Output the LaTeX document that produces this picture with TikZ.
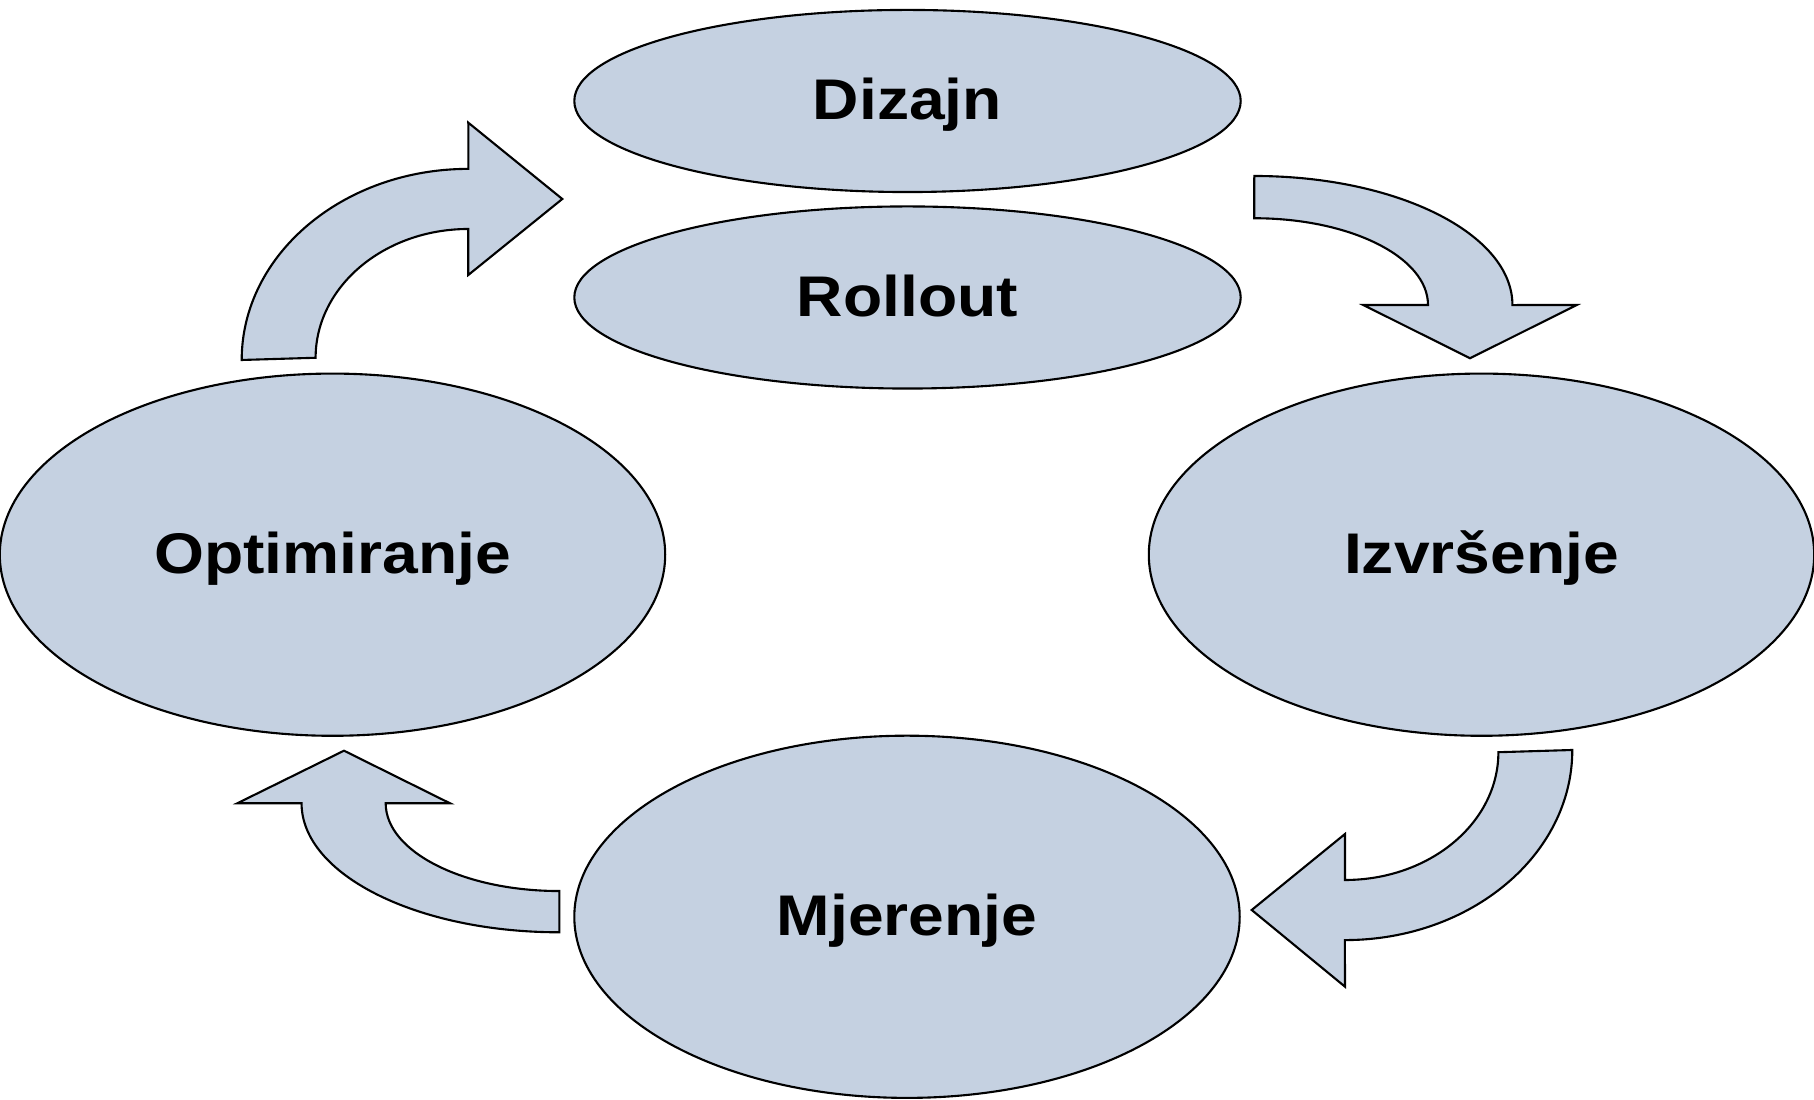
\documentclass[tikz,border=0pt]{standalone}
\usepackage{fontspec}
\usetikzlibrary{shapes.geometric}
\newfontfamily\natpis{Liberation Sans}[FakeStretch=1.12]
\definecolor{plava}{RGB}{197,209,225}
\begin{document}
\begin{tikzpicture}[x=0.01cm,y=0.01cm,
  faza/.style={ellipse,draw,fill=plava,line width=0.6pt,inner sep=0pt,
    font=\natpis\fontsize{16.3}{19}\selectfont\bfseries,
    text height=12pt,text depth=1.2pt},
  mala/.style={faza,minimum width=6.66cm,minimum height=1.82cm},
  velika/.style={faza,minimum width=6.65cm,minimum height=3.62cm},
  strelica/.style={draw,fill=plava,line width=0.6pt,line join=miter}]
\useasboundingbox (0,0) rectangle (1814,1100);
\node[mala] (dizajn) at (907.5,999) {Dizajn};
\node[mala] (rollout) at (907.5,802.5) {Rollout};
\node[velika] (optim) at (332.5,545.3) {Optimiranje};
\node[velika] (izvrs) at (1481.5,545.3) {Izvršenje};
\node[velika] (mjer) at (907,183.2) {Mjerenje};
\draw[strelica] (1254.3,924) arc[start angle=90,end angle=0,x radius=2.58cm,y radius=1.29cm]
  -- (1576.7,795) -- (1470,741.7) -- (1363.3,795) -- (1428,795)
  arc[start angle=0,end angle=90,x radius=1.737cm,y radius=0.867cm] -- cycle;
\draw[strelica] (1572.3,350) arc[start angle=0,end angle=-90,x radius=2.273cm,y radius=1.9cm]
  -- (1345,113.3) -- (1251.7,190) -- (1345,266) -- (1345,220)
  arc[start angle=-90,end angle=0,x radius=1.533cm,y radius=1.277cm] -- cycle;
\draw[strelica] (559.3,167.7) arc[start angle=270,end angle=180,x radius=2.576cm,y radius=1.29cm]
  -- (237.3,296.7) -- (344,349.3) -- (450,296.7) -- (385.7,296.7)
  arc[start angle=180,end angle=270,x radius=1.736cm,y radius=0.877cm] -- cycle;
\draw[strelica] (241.7,740) arc[start angle=180,end angle=90,x radius=2.266cm,y radius=1.91cm]
  -- (468.3,977.3) -- (562.3,901) -- (468.3,825) -- (468.3,871)
  arc[start angle=90,end angle=180,x radius=1.526cm,y radius=1.287cm] -- cycle;
\end{tikzpicture}
\end{document}
